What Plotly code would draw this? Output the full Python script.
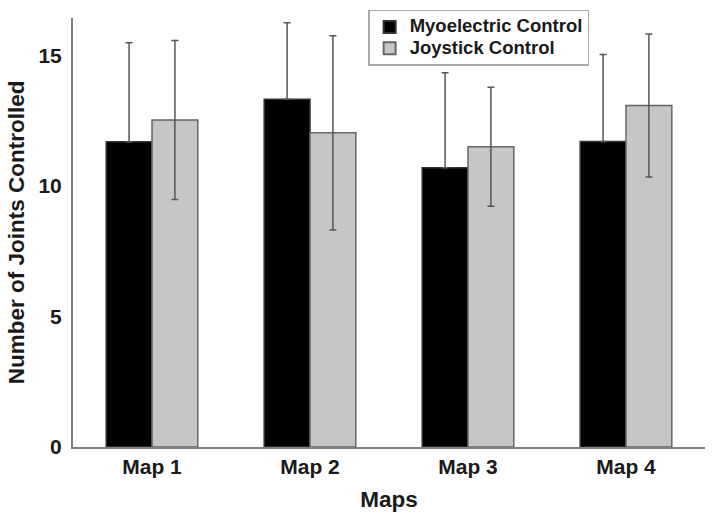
import plotly.graph_objects as go

categories = ["Map 1", "Map 2", "Map 3", "Map 4"]
myo_mean = [11.7, 13.33, 10.70, 11.71]
myo_err = [3.79, 2.93, 3.64, 3.33]
joy_mean = [12.53, 12.04, 11.51, 13.09]
joy_err = [3.05, 3.72, 2.28, 2.74]
y_ticks = [0, 5, 10, 15]

font_family = "Liberation Sans, Arial, sans-serif"
err_color = "#555555"


def legend_label(s):
    return f'<span style="font-size:18.5px"><b>{s}</b></span>'


fig = go.Figure()
fig.add_trace(go.Bar(
    name=legend_label("Myoelectric Control"), x=categories, y=myo_mean,
    marker=dict(color="#000000", line=dict(color="#333333", width=1.5)),
    error_y=dict(type="data", symmetric=False, array=myo_err,
                 arrayminus=[0 for _ in myo_err],
                 color=err_color, thickness=1.5, width=3.5),
))
fig.add_trace(go.Bar(
    name=legend_label("Joystick Control"), x=categories, y=joy_mean,
    marker=dict(color="#c6c6c6", line=dict(color="#666666", width=1.5)),
    error_y=dict(type="data", array=joy_err, color=err_color,
                 thickness=1.5, width=3.5),
))

fig.update_layout(
    width=714, height=521,
    margin=dict(l=73, r=9, t=18, b=74, autoexpand=False),
    paper_bgcolor="white", plot_bgcolor="white",
    barmode="group", bargap=0.42, bargroupgap=0,
    font=dict(family=font_family, size=21, color="#1a1a1a"),
    showlegend=True,
    legend=dict(x=0.467, y=1.019, xanchor="left", yanchor="top",
                bgcolor="white", bordercolor="#aaaaaa", borderwidth=1.5,
                font=dict(size=14, family=font_family, color="#1a1a1a"),
                tracegroupgap=0, itemsizing="constant"),
    xaxis=dict(
        range=[-0.5, 3.5], automargin=False,
        showline=True, linecolor="#808080", linewidth=2,
        ticks="", showgrid=False,
        tickfont=dict(size=21, family=font_family),
        tickprefix="<b>", ticksuffix="</b>",
        title=dict(text="<b>Maps</b>", font=dict(size=22.5), standoff=14),
    ),
    yaxis=dict(
        range=[0, 16.44], automargin=False,
        tickvals=y_ticks, ticktext=[f"<b>{v}</b>" for v in y_ticks],
        showline=True, linecolor="#808080", linewidth=2,
        ticks="", showgrid=False, zeroline=False,
        ticklabelstandoff=5,
        tickfont=dict(size=21, family=font_family),
        title=dict(text="<b>Number of Joints Controlled</b>", font=dict(size=22.5), standoff=8),
    ),
)

fig.write_html("out.html", config={"displayModeBar": False},
               post_script="document.body.style.margin='0';")
